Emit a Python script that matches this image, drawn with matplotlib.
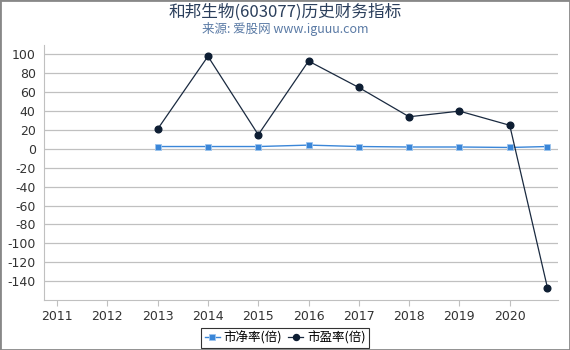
import matplotlib
matplotlib.use("Agg")
import matplotlib.pyplot as plt
from matplotlib.patches import Rectangle

plt.rcParams['font.family'] = ['DejaVu Sans', 'Noto Sans CJK SC']
plt.rcParams['axes.unicode_minus'] = False

years = [2013, 2014, 2015, 2016, 2017, 2018, 2019, 2020, 2020.75]
pb = [2.5, 2.5, 2.5, 4.0, 2.5, 2.0, 2.0, 1.5, 2.5]
pe = [21, 98, 15, 93, 65, 34, 40, 25, -147]
xticks = list(range(2011, 2021))
yticks = list(range(-140, 101, 20))

fig = plt.figure(figsize=(5.7, 3.5), dpi=100)
ax = fig.add_axes([44/570, 1-300/350, (558-44)/570, (300-45)/350])

for y in yticks:
    ax.axhline(y, color='#c0c0c0', lw=0.9, zorder=0)

ax.plot(years, pb, color='#3a86d8', lw=1.0, marker='s', ms=5,
        markerfacecolor='#3a86d8', markeredgecolor='#9cc4ee', markeredgewidth=0.6,
        label='市净率(倍)', zorder=3)
ax.plot(years, pe, color='#1a2a40', lw=0.9, marker='o', ms=4.8,
        markerfacecolor='#0e1e33', markeredgecolor='#0e1e33',
        label='市盈率(倍)', zorder=4)

ax.set_xlim(2010.74, 2020.96)
ax.set_ylim(-160, 110)
ax.set_xticks(xticks)
ax.set_xticklabels([str(x) for x in xticks])
ax.set_yticks(yticks)
ax.tick_params(axis='both', labelsize=9, colors='#333333', length=4)
ax.tick_params(axis='y', length=0, pad=6)
ax.tick_params(axis='x', color='#c0c0c0')
for s in ['top', 'right']:
    ax.spines[s].set_visible(False)
ax.spines['left'].set_color('#c0c0c0')
ax.spines['bottom'].set_color('#c0c0c0')

fig.text(0.5, 1-12/350, '和邦生物(603077)历史财务指标', ha='center', va='center',
         fontsize=12, color='#2b3f5c', family=['Noto Sans CJK SC', 'DejaVu Sans'])
fig.text(0.5, 1-29/350, '来源: 爱股网 www.iguuu.com', ha='center', va='center',
         fontsize=9, color='#5a7aa5', family=['Noto Sans CJK SC', 'DejaVu Sans'])

leg = fig.legend(*ax.get_legend_handles_labels(), loc='center',
                 bbox_to_anchor=(0.5, 1-338/350), ncol=2,
                 frameon=True, fancybox=False, handlelength=1.2, markerscale=0.9,
                 handletextpad=0.3, columnspacing=0.5, borderpad=0.3,
                 prop={'family': ['Noto Sans CJK SC', 'DejaVu Sans'], 'size': 9})
leg.get_frame().set_edgecolor('black')
leg.get_frame().set_linewidth(0.8)

fig.patches.append(Rectangle((0, 0), 1, 1, transform=fig.transFigure, fill=False,
                             edgecolor='#888888', lw=2))

fig.savefig('out.png', dpi=100)
